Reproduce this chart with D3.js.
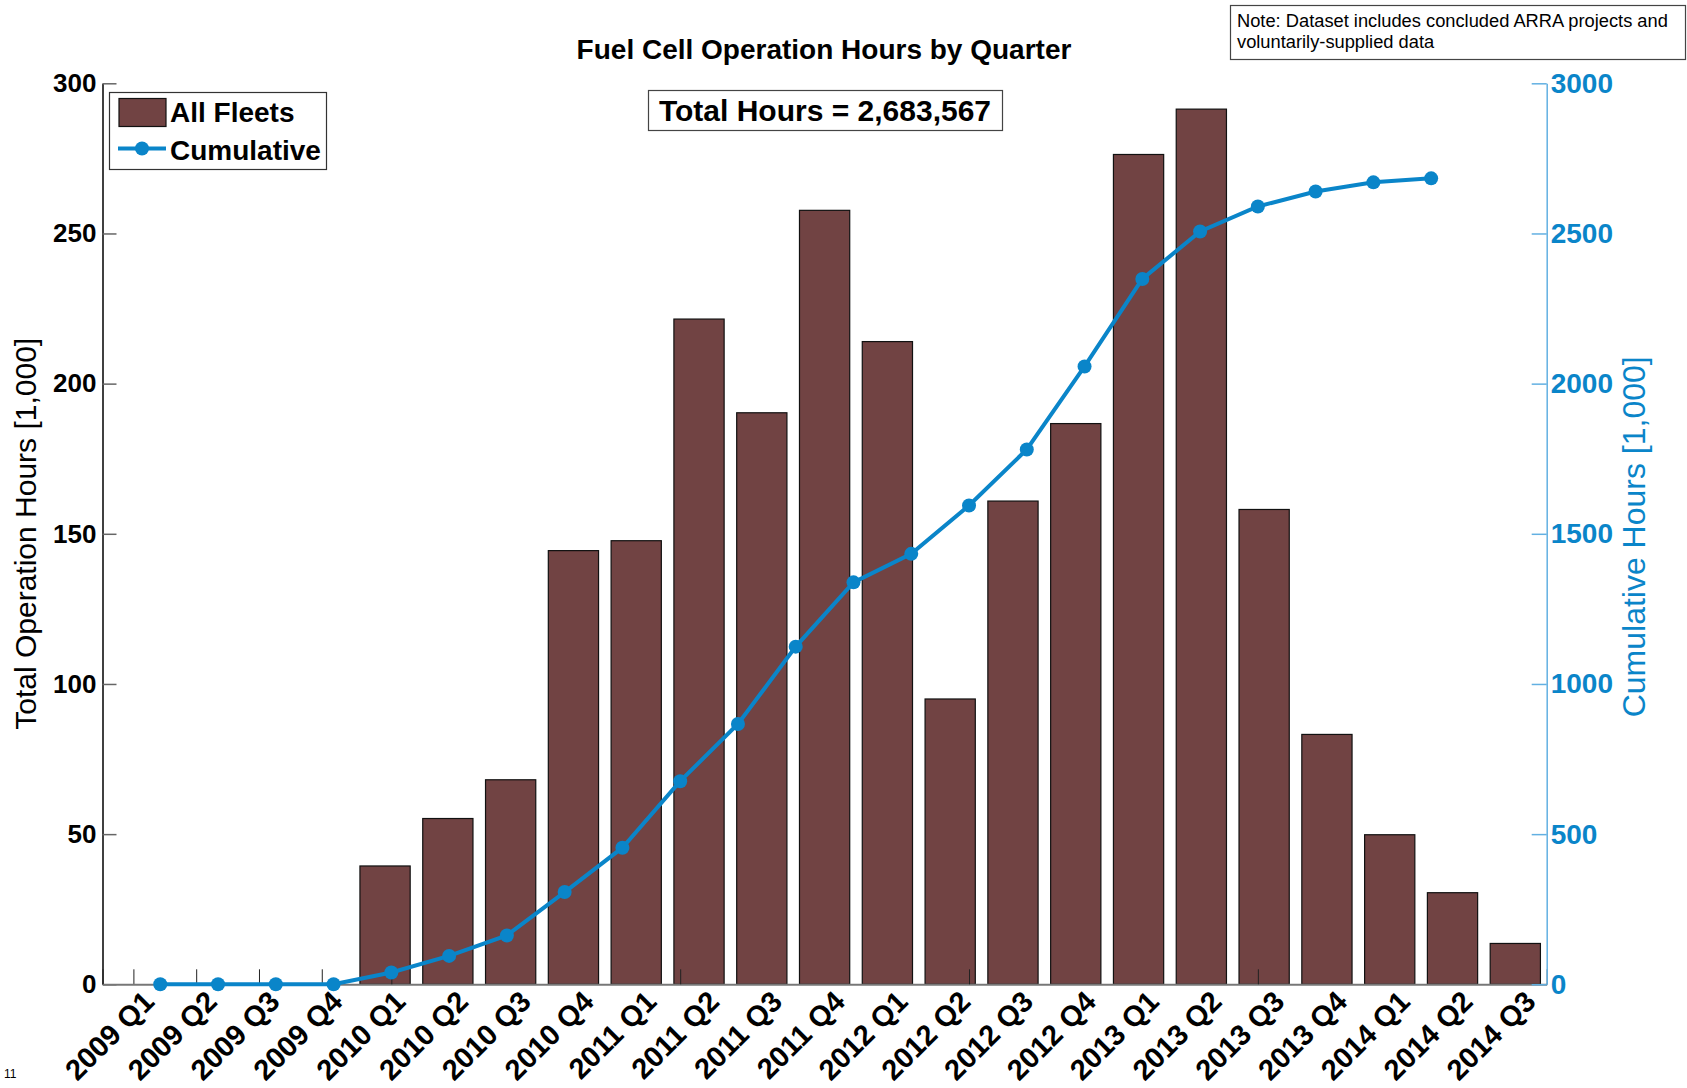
<!DOCTYPE html>
<html>
<head>
<meta charset="utf-8">
<script src="https://cdn.jsdelivr.net/npm/d3@7"></script>
<style>
  body { margin: 0; background: #fff; }
  text { font-family: "Liberation Sans", Arial, sans-serif; }
</style>
</head>
<body>
<div id="chart"></div>
<script>
// Quarter labels along the bottom
const quarters = [
  "2009 Q1", "2009 Q2", "2009 Q3", "2009 Q4",
  "2010 Q1", "2010 Q2", "2010 Q3", "2010 Q4",
  "2011 Q1", "2011 Q2", "2011 Q3", "2011 Q4",
  "2012 Q1", "2012 Q2", "2012 Q3", "2012 Q4",
  "2013 Q1", "2013 Q2", "2013 Q3", "2013 Q4",
  "2014 Q1", "2014 Q2", "2014 Q3"
];

// Operation hours per quarter [1,000] (left axis)
const quarterHours = [
  0, 0, 0, 0,
  39.4, 55.2, 68.1, 144.4,
  147.7, 221.5, 190.3, 257.7,
  214.0, 95.0, 160.9, 186.7,
  276.3, 291.4, 158.1, 83.2,
  49.8, 30.5, 13.6
];

// Cumulative hours [1,000] (right axis)
const cumulativeHours = [
  0, 0, 0, 0,
  39.4, 94.6, 162.7, 307.1,
  454.8, 676.3, 866.6, 1124.3,
  1338.3, 1433.3, 1594.2, 1780.9,
  2057.2, 2348.6, 2506.7, 2589.9,
  2639.7, 2670.2, 2683.6
];

const leftTicks = [0, 50, 100, 150, 200, 250, 300];
const rightTicks = [0, 500, 1000, 1500, 2000, 2500, 3000];
const lineAxisTicks = [0, 5, 10, 15, 20, 25];
const totalHours = 2683567;

const W = 1687, H = 1088;
const x0 = 102.5, x1 = 1546.7, yTop = 83.3, yBot = 984.3;

const barColor = "#714343";
const blue = "#0a85c9";
const lightBlue = "#62b0e2";

const svg = d3.select("#chart").append("svg")
  .attr("width", W)
  .attr("height", H);

svg.append("rect").attr("width", W).attr("height", H).attr("fill", "#fff");

// Scales
const xBar = d3.scaleBand()
  .domain(quarters)
  .range([x0, x1])
  .paddingInner(0.2)
  .paddingOuter(0.1);

// second axes for the line: points sit at 1..23 on a 0..25 range
const xLine = d3.scaleLinear().domain([0, 25]).range([x0, x1]);

const yLeft = d3.scaleLinear().domain([0, 300]).range([yBot, yTop]);
const yRight = d3.scaleLinear().domain([0, 3000]).range([yBot, yTop]);

// Bar axis ticks at every quarter (under the bars)
const xAxisG = svg.append("g")
  .attr("transform", `translate(0,${yBot})`)
  .call(d3.axisBottom(xBar).tickSize(-15).tickSizeOuter(0));
xAxisG.select(".domain").remove();
xAxisG.selectAll(".tick line").attr("stroke", "#222");
xAxisG.selectAll(".tick text")
  .attr("x", 0).attr("y", 0).attr("dy", 0)
  .attr("transform", "translate(22,19) rotate(-45)")
  .style("text-anchor", "end")
  .style("font-size", "29px")
  .style("font-weight", "bold")
  .attr("fill", "#000");

// Bars
svg.append("g")
  .selectAll("rect")
  .data(quarters)
  .enter()
  .append("rect")
  .attr("x", d => xBar(d))
  .attr("width", xBar.bandwidth())
  .attr("y", (d, i) => yLeft(quarterHours[i]))
  .attr("height", (d, i) => yLeft(0) - yLeft(quarterHours[i]))
  .attr("fill", barColor)
  .attr("stroke", "#111")
  .attr("stroke-width", 1.2)
  .style("display", (d, i) => quarterHours[i] > 0 ? null : "none");

// Left axis
const yAxisL = svg.append("g")
  .attr("transform", `translate(${x0},0)`)
  .call(d3.axisLeft(yLeft).tickValues(leftTicks).tickSize(-14).tickSizeOuter(0).tickPadding(6));
yAxisL.select(".domain").attr("stroke", "#000").attr("stroke-width", 1.5);
yAxisL.selectAll(".tick line").attr("stroke", "#666").attr("stroke-width", 1.5);
yAxisL.selectAll(".tick text")
  .style("font-size", "26px")
  .style("font-weight", "bold")
  .attr("fill", "#000");

// Line axis (bottom line + sparse ticks drawn on top of the bars)
const xLineG = svg.append("g")
  .attr("transform", `translate(0,${yBot})`)
  .call(d3.axisBottom(xLine).tickValues(lineAxisTicks).tickSize(-15).tickSizeOuter(0).tickFormat(""));
xLineG.select(".domain").attr("stroke", "#777").attr("stroke-width", 2);
xLineG.selectAll(".tick line").attr("stroke", "#222");

// Cumulative line
const line = d3.line()
  .x((d, i) => xLine(i + 1))
  .y(d => yRight(d));

svg.append("path")
  .datum(cumulativeHours)
  .attr("fill", "none")
  .attr("stroke", blue)
  .attr("stroke-width", 4)
  .attr("d", line);

svg.append("g")
  .selectAll("circle")
  .data(cumulativeHours)
  .enter()
  .append("circle")
  .attr("cx", (d, i) => xLine(i + 1))
  .attr("cy", d => yRight(d))
  .attr("r", 7)
  .attr("fill", blue);

// Right axis
const yAxisR = svg.append("g")
  .attr("transform", `translate(${x1},0)`)
  .call(d3.axisRight(yRight).tickValues(rightTicks).tickFormat(d3.format("d"))
    .tickSize(-15).tickSizeOuter(0).tickPadding(4));
yAxisR.select(".domain").attr("stroke", lightBlue).attr("stroke-width", 1.5);
yAxisR.selectAll(".tick line").attr("stroke", lightBlue).attr("stroke-width", 1.5);
yAxisR.selectAll(".tick text")
  .style("font-size", "28px")
  .style("font-weight", "bold")
  .attr("fill", blue);

// Axis titles
svg.append("text")
  .attr("transform", `translate(36,${(yTop + yBot) / 2}) rotate(-90)`)
  .attr("text-anchor", "middle")
  .style("font-size", "30px")
  .attr("fill", "#000")
  .text("Total Operation Hours [1,000]");

svg.append("text")
  .attr("transform", `translate(1645,${(yTop + yBot) / 2 + 3}) rotate(-90)`)
  .attr("text-anchor", "middle")
  .style("font-size", "32px")
  .attr("fill", blue)
  .text("Cumulative Hours [1,000]");

// Title
svg.append("text")
  .attr("x", 824).attr("y", 59)
  .attr("text-anchor", "middle")
  .style("font-size", "28px")
  .style("font-weight", "bold")
  .text("Fuel Cell Operation Hours by Quarter");

// Total box
svg.append("rect")
  .attr("x", 648.5).attr("y", 90.5).attr("width", 354).attr("height", 40)
  .attr("fill", "#fff").attr("stroke", "#444").attr("stroke-width", 1.2);
svg.append("text")
  .attr("x", 825).attr("y", 121)
  .attr("text-anchor", "middle")
  .style("font-size", "30px")
  .style("font-weight", "bold")
  .text("Total Hours = " + d3.format(",")(totalHours));

// Note box
svg.append("rect")
  .attr("x", 1230.5).attr("y", 5.5).attr("width", 455).attr("height", 54)
  .attr("fill", "#fff").attr("stroke", "#444").attr("stroke-width", 1.2);
const note = svg.append("text").style("font-size", "18.3px");
note.append("tspan").attr("x", 1237).attr("y", 27)
  .text("Note: Dataset includes concluded ARRA projects and");
note.append("tspan").attr("x", 1237).attr("y", 48)
  .text("voluntarily-supplied data");

// Legend
const legend = svg.append("g");
legend.append("rect")
  .attr("x", 109.5).attr("y", 92.5).attr("width", 217).attr("height", 77)
  .attr("fill", "#fff").attr("stroke", "#333").attr("stroke-width", 1.2);
legend.append("rect")
  .attr("x", 119).attr("y", 98.5).attr("width", 47).attr("height", 28)
  .attr("fill", barColor).attr("stroke", "#111").attr("stroke-width", 1.2);
legend.append("text")
  .attr("x", 170).attr("y", 122)
  .style("font-size", "28px").style("font-weight", "bold")
  .text("All Fleets");
legend.append("line")
  .attr("x1", 118).attr("x2", 166).attr("y1", 148.5).attr("y2", 148.5)
  .attr("stroke", blue).attr("stroke-width", 4);
legend.append("circle")
  .attr("cx", 142).attr("cy", 148.5).attr("r", 7).attr("fill", blue);
legend.append("text")
  .attr("x", 170).attr("y", 160)
  .style("font-size", "28px").style("font-weight", "bold")
  .text("Cumulative");

// page number in corner
svg.append("text")
  .attr("x", 4).attr("y", 1078)
  .style("font-size", "12px")
  .text("11");
</script>
</body>
</html>
